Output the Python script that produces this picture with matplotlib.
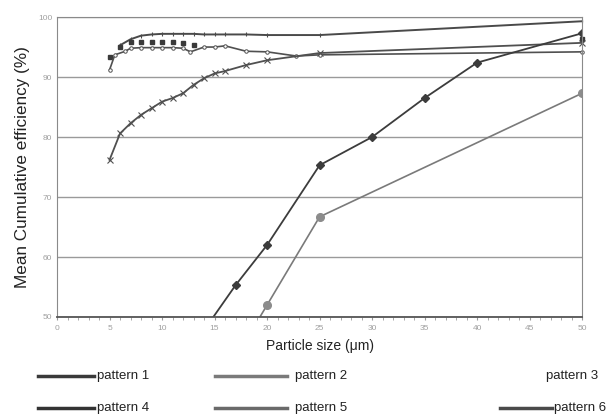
import matplotlib
matplotlib.use("Agg")
import matplotlib.pyplot as plt
from matplotlib.lines import Line2D
from matplotlib.ticker import MultipleLocator

plt.rcParams['font.family'] = ['Liberation Sans', 'DejaVu Sans']

# data
p1_x = [6, 7, 8, 9, 10, 11, 12, 13, 14, 15, 16, 18, 20, 25, 50]
p1_y = [95.3, 96.3, 96.9, 97.1, 97.2, 97.2, 97.2, 97.2, 97.1, 97.1, 97.1, 97.1, 97.0, 97.0, 99.3]

p3_x = [5, 6, 7, 8, 9, 10, 11, 12, 13, 50]
p3_y = [93.4, 95.0, 95.9, 95.9, 95.9, 95.9, 95.8, 95.6, 95.3, 96.3]

p2_x = [5, 5.5, 6.5, 7, 8, 9, 10, 11, 12, 12.7, 14, 15, 16, 18, 20, 22.8, 25, 50]
p2_y = [91.2, 93.7, 94.3, 94.8, 94.9, 94.9, 94.9, 94.9, 94.8, 94.2, 95.0, 95.0, 95.2, 94.3, 94.2, 93.5, 93.7, 94.2]

p6_x = [5, 6, 7, 8, 9, 10, 11, 12, 13, 14, 15, 16, 18, 20, 25, 50]
p6_y = [76.2, 80.6, 82.3, 83.7, 84.8, 85.9, 86.5, 87.3, 88.7, 89.8, 90.6, 91.0, 92.0, 92.8, 94.0, 95.7]

p4_x = [12, 17, 20, 25, 30, 35, 40, 50]
p4_y = [42.8, 55.3, 62.0, 75.3, 80.0, 86.5, 92.4, 97.3]

p5_x = [15, 20, 25, 50]
p5_y = [37.3, 52.0, 66.7, 87.3]

legend_names = ["pattern 1", "pattern 2", "pattern 3",
                "pattern 4", "pattern 5", "pattern 6"]

fig = plt.figure(figsize=(6.07, 4.16), dpi=100)
ax = fig.add_axes([0.094, 0.238, 0.865, 0.721])

ax.plot(p1_x, p1_y, color='#4a4a4a', lw=1.4, marker='|', ms=3, mew=0.8, clip_on=False)
ax.plot(p3_x, p3_y, ls='none', marker='s', ms=2.3, color='#3a3a3a', clip_on=False)
ax.plot(p2_x, p2_y, color='#505050', lw=1.2, marker='o', ms=2.5, mfc='white', mew=0.7, clip_on=False)
ax.plot(p6_x, p6_y, color='#505050', lw=1.3, marker='x', ms=4, mew=0.8, clip_on=False)
ax.plot(p4_x, p4_y, color='#3c3c3c', lw=1.3, marker='D', ms=3.6, clip_on=True)
ax.plot(p5_x, p5_y, color='#7a7a7a', lw=1.2, marker='o', ms=5.5, mfc='#8c8c8c', mec='#8c8c8c', clip_on=True)

ax.set_xlim(0, 50)
ax.set_ylim(50, 100)
ax.xaxis.set_major_locator(MultipleLocator(5))
ax.xaxis.set_minor_locator(MultipleLocator(1))
ax.yaxis.set_major_locator(MultipleLocator(10))
ax.grid(axis='y', color='#9a9a9a', lw=1)
ax.set_axisbelow(True)

for side in ['top', 'right', 'left']:
    ax.spines[side].set_color('#8a8a8a')
ax.spines['bottom'].set_color('#555555')
ax.spines['bottom'].set_linewidth(1.3)
ax.tick_params(axis='both', labelsize=6, labelcolor='#a0a0a0', color='#999999', length=2)
ax.tick_params(axis='x', which='minor', length=2, color='#999999')
ax.tick_params(axis='y', length=0)

ax.set_xlabel('Particle size (\u03bcm)', fontsize=10, color='#222222', labelpad=5)
ax.set_ylabel('Mean Cumulative efficiency (%)', fontsize=12.3, color='#222222', labelpad=6)

# legend drawn by hand below the axes
leg_colors = ['#3a3a3a', '#7a7a7a', 'white', '#333333', '#6a6a6a', '#4a4a4a']
line_x = [(0.063, 0.155), (0.354, 0.473), (0.823, 0.91)]
text_x = [0.16, 0.486, 0.912]
rows_y = [0.096, 0.019]
for i, name in enumerate(legend_names):
    r, c = divmod(i, 3)
    x0, x1 = line_x[c]
    tx = text_x[c]
    if i == 2:
        x0, x1, tx = 0.8, 0.895, 0.9
    fig.add_artist(Line2D([x0, x1], [rows_y[r]] * 2, color=leg_colors[i], lw=2.5,
                          transform=fig.transFigure))
    fig.text(tx, rows_y[r], name, fontsize=9.5, color='#222222', va='center')

fig.savefig('out.png', dpi=100)
